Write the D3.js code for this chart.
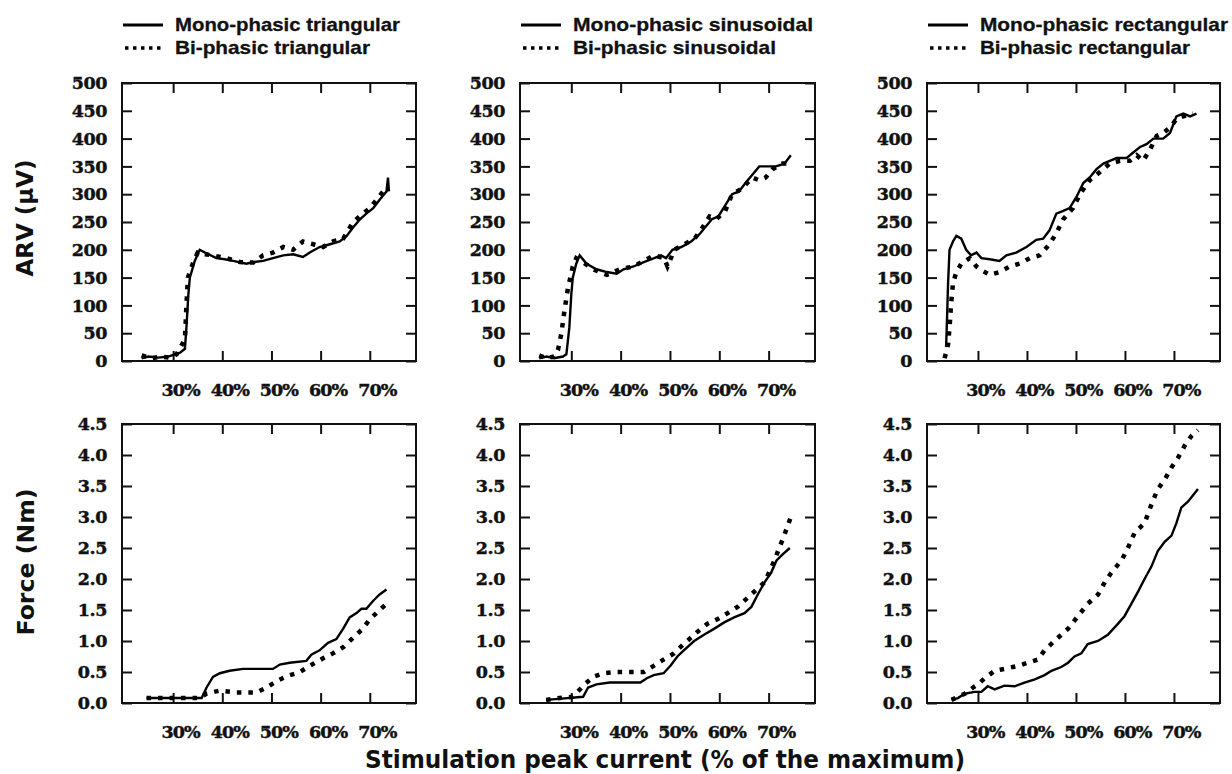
<!DOCTYPE html>
<html><head><meta charset="utf-8">
<script src="https://cdn.jsdelivr.net/npm/d3@7"></script>
<style>body{margin:0;background:#fff;} svg{display:block;}</style>
</head><body><svg id="c" width="1232" height="774"></svg>
<script>
// ---- tick labels / categories ----
const xTickValues = [30, 40, 50, 60, 70];
const arvTickValues = [0, 50, 100, 150, 200, 250, 300, 350, 400, 450, 500];
const forceTickValues = [0, 0.5, 1.0, 1.5, 2.0, 2.5, 3.0, 3.5, 4.0, 4.5];
const waveforms = ["triangular", "sinusoidal", "rectangular"];
const seriesNames = ["Mono-phasic", "Bi-phasic"];

// ---- ARV (µV) series: [stimulation %, value] ----
const arvMonoTri = [[23.6,5],[25,8],[27,6],[29,8],[31.4,15],[32.4,22],[32.7,60],[33.1,120],[33.4,150],[34.4,180],[35.4,200],[36.5,195],[38.8,185],[40.5,183],[42.2,180],[44.9,175],[46.3,178],[48.3,180],[50.3,185],[52.4,190],[54.4,192],[56.4,187],[57.8,195],[59.8,205],[61.9,210],[63.9,215],[65.3,225],[66.6,240],[68,255],[69.3,265],[70.7,275],[72,290],[73.4,305],[73.7,330],[73.9,305]];
const arvBiTri = [[23.6,10],[25.5,5],[27.5,8],[29.5,6],[30.7,12],[31.7,28],[32.4,40],[32.7,100],[33,150],[34,175],[35,195],[36.5,192],[38,190],[40.8,185],[43.6,178],[46.3,177],[48.3,190],[50.3,195],[52.4,205],[54.4,200],[56.4,215],[58.5,210],[60.5,205],[62.5,215],[64.6,220],[66.6,250],[68.6,265],[70,275],[71.4,290],[72.7,305],[73.7,310]];
const arvMonoSin = [[23.5,5],[25,8],[26.5,5],[28.3,8],[29,12],[29.6,60],[30,120],[30.3,150],[31,175],[31.7,190],[33.1,175],[35.1,165],[37.2,160],[39.2,157],[40.6,165],[42.6,170],[44.7,178],[46.8,185],[48.2,190],[49.2,185],[50.5,200],[52.3,205],[54.3,215],[56,228],[57.1,240],[58.5,255],[59.8,260],[61.2,280],[62.6,300],[64,305],[65.3,320],[66.7,335],[68.1,350],[69.4,350],[71.5,350],[73.2,355],[74.5,370]];
const arvBiSin = [[23.5,10],[25,5],[26.5,8],[27.3,20],[28,50],[28.6,90],[29.3,130],[30.3,170],[31,185],[32,180],[34.4,165],[37.2,155],[39.9,165],[42.6,170],[44.7,180],[46.8,190],[48.8,185],[49.5,170],[50.9,200],[52.9,210],[55,220],[56.6,240],[58,260],[59.4,255],[61.2,270],[62.6,300],[64.6,310],[66.7,330],[68.1,325],[69.4,330],[70.8,345],[72.8,355],[74.8,355]];
const arvMonoRect = [[23.5,25],[23.7,80],[23.9,140],[24.2,200],[24.9,215],[25.6,225],[26.6,220],[27.6,200],[28.6,190],[29.7,195],[30.7,185],[32.4,183],[34.4,180],[35.8,190],[37.8,195],[39.9,205],[41.9,218],[43.3,220],[44.6,235],[46,265],[47.4,270],[48.7,275],[50.1,295],[51.5,320],[52.8,330],[54.2,345],[55.6,355],[56.9,360],[58.3,365],[60.3,365],[61.7,375],[63.1,385],[64.4,390],[65.8,400],[67.8,400],[69.2,410],[70.5,440],[71.9,445],[73.3,440],[74.6,445]];
const arvBiRect = [[23.2,5],[23.9,30],[24.2,60],[24.5,100],[24.9,140],[25.6,160],[26.6,175],[28.3,185],[29.7,170],[31,162],[32.4,155],[34.4,160],[36.5,170],[38.5,175],[40.6,185],[42.6,190],[44.6,210],[46,230],[47.4,255],[49.4,275],[50.8,300],[52.8,325],[54.9,340],[56.9,355],[59,360],[61,360],[62.4,370],[63.7,360],[65.1,380],[66.5,405],[67.8,410],[69.2,420],[70.5,435],[71.9,440],[73.9,445]];

// ---- Force (Nm) series ----
const forceMonoTri = [[24.6,0.08],[30,0.08],[35.8,0.08],[36.8,0.25],[38.1,0.42],[39.5,0.48],[41.5,0.52],[44.2,0.55],[50.3,0.55],[51.7,0.62],[53.7,0.65],[57.1,0.68],[58.1,0.78],[59.8,0.85],[61.5,0.97],[63.2,1.03],[64.6,1.2],[65.9,1.38],[67.3,1.45],[68.3,1.52],[69.3,1.52],[70.7,1.65],[72,1.75],[73.4,1.83]];
const forceBiTri = [[24.6,0.08],[30,0.08],[35.4,0.08],[36.8,0.15],[39.5,0.2],[42.9,0.17],[47,0.17],[49,0.25],[51,0.35],[53,0.43],[55.8,0.5],[57.8,0.6],[60.5,0.72],[62.5,0.8],[64.6,0.9],[66.6,1.05],[68.6,1.2],[70,1.35],[72,1.5],[73.4,1.6]];
const forceMonoSin = [[24.9,0.05],[28,0.07],[32.4,0.1],[33.4,0.25],[35.1,0.3],[37.8,0.33],[44,0.33],[45.3,0.4],[46.7,0.45],[48.7,0.48],[50.1,0.6],[51.5,0.75],[52.8,0.85],[54.9,1.0],[56.9,1.1],[59,1.2],[61,1.3],[63,1.38],[65.1,1.45],[66.5,1.55],[67.8,1.75],[69.2,1.95],[70.5,2.1],[71.6,2.3],[72.9,2.4],[74.3,2.5]];
const forceBiSin = [[24.9,0.05],[27.6,0.08],[30.3,0.1],[32.7,0.3],[34.4,0.42],[36.5,0.48],[39.2,0.5],[44.7,0.5],[46.7,0.6],[48.7,0.7],[50.8,0.8],[52.1,0.9],[54.2,1.05],[55.6,1.15],[57.6,1.28],[59.6,1.35],[61.7,1.45],[63.7,1.55],[65.8,1.7],[67.8,1.85],[69.2,1.95],[71.2,2.3],[71.9,2.45],[72.9,2.65],[73.6,2.8],[74.6,3.02]];
const forceMonoRect = [[24.6,0.05],[25.9,0.08],[27.3,0.15],[29.3,0.18],[30.7,0.18],[32,0.27],[33.4,0.22],[35.4,0.28],[37.5,0.27],[39.5,0.33],[41.6,0.38],[43.6,0.45],[45,0.52],[47,0.58],[48.4,0.65],[49.7,0.75],[51.1,0.8],[52.4,0.95],[54.5,1.0],[56.5,1.1],[58.6,1.28],[59.9,1.4],[61.3,1.6],[62.7,1.8],[64,2.0],[65.4,2.2],[66.7,2.45],[68.1,2.6],[69.5,2.7],[70.5,2.9],[71.5,3.15],[72.9,3.25],[74.9,3.45]];
const forceBiRect = [[24.6,0.05],[27.3,0.15],[29,0.25],[30,0.3],[31.4,0.4],[33.4,0.52],[35.4,0.55],[38.2,0.6],[40.2,0.65],[42.2,0.7],[43.6,0.85],[45.6,1.0],[48.4,1.2],[50.4,1.4],[52.4,1.6],[54.5,1.75],[55.9,1.95],[57.2,2.1],[59.3,2.3],[60.6,2.5],[62,2.75],[64,2.9],[65.4,3.2],[66.7,3.45],[68.1,3.6],[69.5,3.8],[70.8,3.95],[72.2,4.15],[73.5,4.3],[74.9,4.4]];

const arvSeries = [[arvMonoTri, arvBiTri],[arvMonoSin, arvBiSin],[arvMonoRect, arvBiRect]];
const forceSeries = [[forceMonoTri, forceBiTri],[forceMonoSin, forceBiSin],[forceMonoRect, forceBiRect]];

// ---- layout ----
const svg = d3.select("#c");
const colL = [122, 520, 927], colR = [416, 815, 1220];
const rowT = [83, 424], rowB = [361, 703];
const legendWidths = [[225, 195],[240, 203],[248, 210]];
const tickFont = "'DejaVu Serif', serif";
const sansFont = "'DejaVu Sans', sans-serif";

function styleTick(sel, ls) {
  sel.attr("font-family", tickFont).attr("font-weight", "bold").attr("font-size", 17.5)
    .attr("letter-spacing", ls).attr("fill", "#111").attr("stroke", "#111").attr("stroke-width", 0.45);
}

function panel(col, row, series, yTicks, yMax, fmt) {
  const x = d3.scaleLinear().domain([19.6, 79.4]).range([colL[col], colR[col]]);
  const y = d3.scaleLinear().domain([0, yMax]).range([rowB[row], rowT[row]]);
  const g = svg.append("g");
  g.append("rect").attr("x", colL[col]).attr("y", rowT[row])
    .attr("width", colR[col]-colL[col]).attr("height", rowB[row]-rowT[row])
    .attr("fill", "none").attr("stroke", "#111").attr("stroke-width", 2);
  const ax = (gen, tr) => {
    const a = g.append("g").attr("transform", tr).call(gen);
    a.select(".domain").remove();
    a.selectAll("line").attr("stroke", "#111").attr("stroke-width", 2);
    return a;
  };
  const bx = ax(d3.axisBottom(x).tickValues(xTickValues).tickSizeInner(-10).tickSizeOuter(0).tickFormat(d => d + "%"), `translate(0,${rowB[row]})`);
  styleTick(bx.selectAll("text").attr("y", 23).attr("dx", 7), -0.9);
  ax(d3.axisTop(x).tickValues(xTickValues).tickSizeInner(-10).tickSizeOuter(0).tickFormat(""), `translate(0,${rowT[row]})`);
  const ly = ax(d3.axisLeft(y).tickValues(yTicks).tickSizeInner(-10).tickSizeOuter(0).tickFormat(fmt), `translate(${colL[col]},0)`);
  styleTick(ly.selectAll("text").attr("x", -15), -0.4);
  ax(d3.axisRight(y).tickValues(yTicks).tickSizeInner(-10).tickSizeOuter(0).tickFormat(""), `translate(${colR[col]},0)`);
  const line = d3.line().x(d => x(d[0])).y(d => y(d[1]));
  g.append("path").datum(series[1]).attr("d", line).attr("fill", "none")
    .attr("stroke", "#000").attr("stroke-width", 4.5).attr("stroke-dasharray", "4.5,7");
  g.append("path").datum(series[0]).attr("d", line).attr("fill", "none")
    .attr("stroke", "#000").attr("stroke-width", 2.4);
}

for (let c = 0; c < 3; c++) {
  panel(c, 0, arvSeries[c], arvTickValues, 500, d3.format("d"));
  panel(c, 1, forceSeries[c], forceTickValues, 4.5, d3.format(".1f"));
  const lx = colL[c] + 1;
  const lg = svg.append("g");
  lg.append("line").attr("x1", lx).attr("x2", lx + 40).attr("y1", 25).attr("y2", 25)
    .attr("stroke", "#000").attr("stroke-width", 3);
  lg.append("line").attr("x1", lx + 2).attr("x2", lx + 40).attr("y1", 48).attr("y2", 48)
    .attr("stroke", "#000").attr("stroke-width", 3.5).attr("stroke-dasharray", "3.5,4.5");
  seriesNames.forEach((s, i) => {
    lg.append("text").attr("x", lx + 52).attr("y", i === 0 ? 31 : 54)
      .attr("font-family", "'Liberation Sans', Arial, sans-serif").attr("font-weight", "bold")
      .attr("font-size", 19).attr("textLength", legendWidths[c][i]).attr("lengthAdjust", "spacingAndGlyphs")
      .attr("fill", "#111").attr("stroke", "#111").attr("stroke-width", 0.3)
      .text(s + " " + waveforms[c]);
  });
}

svg.append("text").attr("transform", "translate(33,218) rotate(-90)").attr("text-anchor", "middle")
  .attr("font-family", sansFont).attr("font-weight", "bold").attr("font-size", 23)
  .attr("textLength", 117).attr("lengthAdjust", "spacingAndGlyphs").attr("fill", "#111").text("ARV (µV)");
svg.append("text").attr("transform", "translate(34,562) rotate(-90)").attr("text-anchor", "middle")
  .attr("font-family", sansFont).attr("font-weight", "bold").attr("font-size", 23)
  .attr("textLength", 147).attr("lengthAdjust", "spacingAndGlyphs").attr("fill", "#111").text("Force (Nm)");
svg.append("text").attr("x", 665).attr("y", 768).attr("text-anchor", "middle")
  .attr("font-family", sansFont).attr("font-weight", "bold").attr("font-size", 24)
  .attr("textLength", 600).attr("lengthAdjust", "spacingAndGlyphs").attr("fill", "#111")
  .text("Stimulation peak current (% of the maximum)");
</script></body></html>
